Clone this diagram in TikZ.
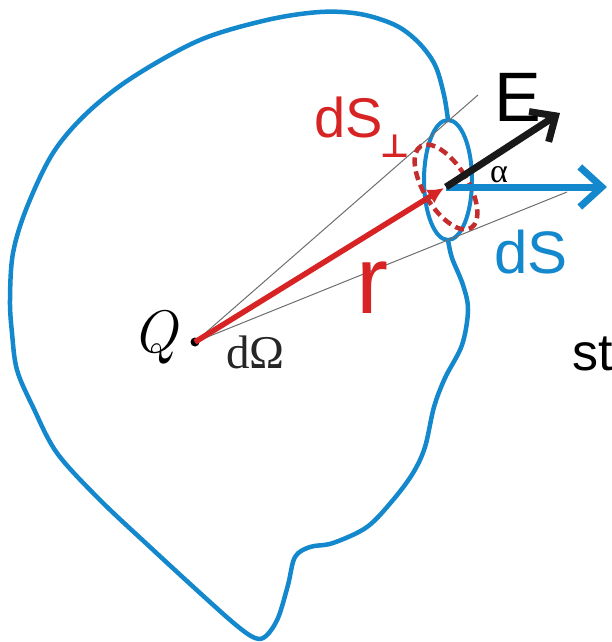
\documentclass[tikz,border=0pt]{standalone}
\usepackage{fontspec}
\usetikzlibrary{arrows.meta}
\newfontfamily\sansf{Liberation Sans}
\newfontfamily\seriff{Liberation Serif}
\newfontfamily\symf{DejaVu Sans Bold}
\definecolor{surfblue}{RGB}{20,136,205}
\definecolor{fieldred}{RGB}{215,35,35}
\definecolor{dashred}{RGB}{195,45,45}
\definecolor{guide}{RGB}{110,110,110}
\tikzset{
  surface/.style={draw=surfblue, line width=4.5pt, line join=round},
  guideline/.style={draw=guide, line width=1pt},
  lbl/.style={inner sep=0pt, outer sep=0pt, anchor=base west},
}
\begin{document}
\begin{tikzpicture}[x=1pt,y=1pt]
\useasboundingbox (0,0) rectangle (611,-642);
% closed surface (blob), open at the small area element
\draw[surface] plot[smooth, tension=0.55] coordinates {
 (448,-240) (452,-258) (463,-285) (468,-310) (462,-345) (445,-378) (434,-407)
 (425,-447) (413,-473) (393,-500) (367,-527) (333,-543) (310,-547) (295,-557)
 (288,-585) (278,-618) (266,-636) (255,-638) (236,-625) (200,-593) (150,-547)
 (100,-500) (57,-453) (33,-407) (17,-370) (12,-333) (10,-300) (13,-253)
 (27,-207) (53,-153) (87,-113) (133,-77) (200,-40) (267,-20) (320,-12)
 (360,-14) (395,-25) (418,-42) (435,-65) (444,-95) (448,-120)};
% area element dS
\draw[surface, line width=4pt] (448,-180) ellipse (24 and 60);
% coordinates and nodes
\node[circle, fill=black, inner sep=0pt, minimum size=9pt] (Q) at (195,-342) {};
\coordinate (C) at (446,-187);
\coordinate (Ctip) at (444,-188);
\coordinate (G1) at (478,-95);
\coordinate (G2) at (567,-192);
\coordinate (Etip) at (560,-113);
\coordinate (Ntip) at (607,-187);
% solid angle guide lines
\draw[guideline] (Q.center) -- (G1);
\draw[guideline] (Q.center) -- (G2);
% r vector
\draw[draw=fieldred, line width=5.5pt, -{Latex[length=16pt,width=16pt]}] (Q.center) -- (Ctip);
% perpendicular area dS_perp
\draw[draw=dashred, line width=4.5pt, dash pattern=on 9pt off 5pt, rotate around={31.6:(C)}] (C) ellipse (22 and 48);
% normal arrow
\draw[draw=surfblue, line width=7pt, -{Straight Barb[length=22pt,width=40pt,line width=7pt]}] (C) -- (Ntip);
% field E
\draw[draw=black!90, line width=7pt, -{Straight Barb[length=20pt,width=36pt,line width=7pt]}] (C) -- (Etip);
% labels
\node[lbl] (Elbl) at (494,-121) {\sansf\fontsize{70}{70}\selectfont E};
\node[lbl] (alpha) at (490,-182) {\seriff\fontsize{34}{34}\selectfont α};
\node[lbl, text=fieldred] (dSp) at (314,-137) {\sansf\fontsize{56}{56}\selectfont dS};
\node[lbl, text=fieldred] (perp) at (380,-157) {\symf\fontsize{32}{32}\selectfont ⊥};
\node[lbl, text=surfblue] (dS) at (494,-273) {\sansf\fontsize{60}{60}\selectfont dS};
\node[lbl, text=fieldred] (rl) at (356,-313) {\sansf\fontsize{96}{96}\selectfont r};
\node[lbl] (st) at (572,-370) {\sansf\fontsize{52}{52}\selectfont st};
\node[lbl, text=black!85] (dOmega) at (226,-368) {\seriff\fontsize{47}{47}\selectfont dΩ};
\node[lbl] (Qlbl) at (132,-352) {\fontsize{60}{60}\selectfont\itshape Q};
\end{tikzpicture}
\end{document}
